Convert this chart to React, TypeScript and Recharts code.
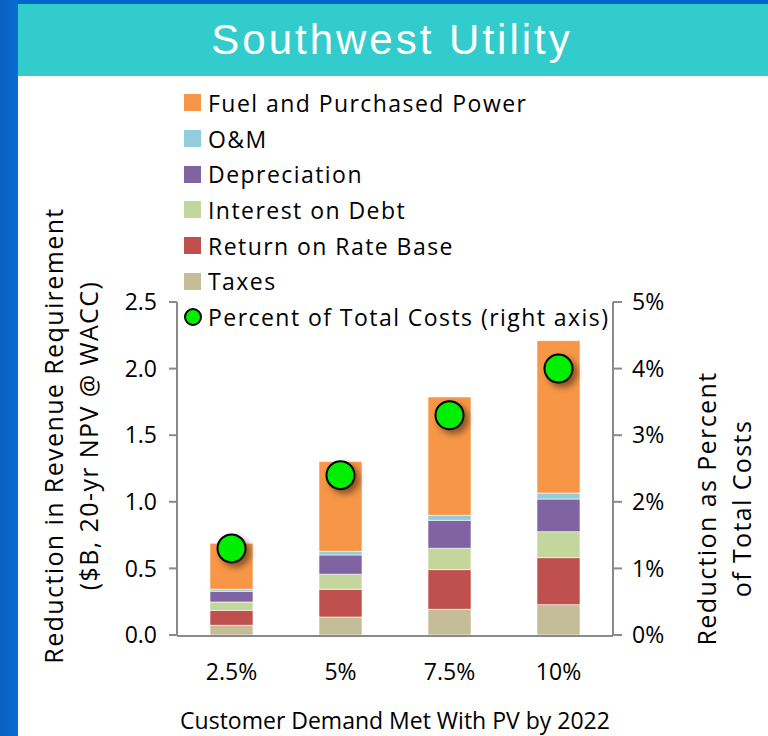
import React from "react";
import {
  ComposedChart,
  Bar,
  Scatter,
  XAxis,
  YAxis,
  Legend,
  Label,
} from "recharts";

// values ($B)
const categories = ["2.5%", "5%", "7.5%", "10%"];
const taxes = [0.073, 0.135, 0.193, 0.228];
const returnOnRateBase = [0.112, 0.208, 0.298, 0.353];
const interestOnDebt = [0.063, 0.113, 0.16, 0.195];
const depreciation = [0.08, 0.145, 0.21, 0.245];
const oAndM = [0.015, 0.027, 0.038, 0.045];
const fuelAndPower = [0.345, 0.674, 0.888, 1.144];
// percent of total costs (right axis)
const pctOfTotal = [1.3, 2.4, 3.3, 4.0];

const leftTicks = [0, 0.5, 1, 1.5, 2, 2.5];
const rightTicks = [0, 1, 2, 3, 4, 5];
const boundaryTicks = [0, 1, 2, 3, 4];

const FONT = "'Open Sans', 'Liberation Sans', sans-serif";
const AXIS = "#8a8a8a";

// bottom-up stacking order
const series = [
  { key: "taxes", name: "Taxes", color: "#C4BD97", values: taxes },
  { key: "ret", name: "Return on Rate Base", color: "#C0504D", values: returnOnRateBase },
  { key: "interest", name: "Interest on Debt", color: "#C3D69B", values: interestOnDebt },
  { key: "dep", name: "Depreciation", color: "#8064A2", values: depreciation },
  { key: "om", name: "O&M", color: "#92CDDC", values: oAndM },
  { key: "fuel", name: "Fuel and Purchased Power", color: "#F79646", values: fuelAndPower },
];

const data = categories.map((c, i) => {
  const row: any = { cat: c, pct: pctOfTotal[i] };
  series.forEach((s) => (row[s.key] = s.values[i]));
  return row;
});

const tickStyle = { fontFamily: FONT, fontSize: 23, fill: "#000" };

function LegendBox() {
  const rows = [...series].reverse();
  const rowStyle: React.CSSProperties = {
    display: "flex",
    alignItems: "center",
    height: 35.7,
    fontFamily: FONT,
    fontSize: 23,
    letterSpacing: 1.45,
    color: "#000",
    whiteSpace: "nowrap",
  };
  return (
    <div>
      {rows.map((s) => (
        <div key={s.key} style={rowStyle}>
          <span style={{ width: 17, height: 17, background: s.color, marginRight: 7, display: "inline-block" }} />
          {s.name}
        </div>
      ))}
      <div style={rowStyle}>
        <span
          style={{
            width: 14,
            height: 14,
            borderRadius: "50%",
            background: "#00EE00",
            border: "2px solid #000",
            marginRight: 6,
            display: "inline-block",
          }}
        />
        Percent of Total Costs (right axis)
      </div>
    </div>
  );
}

const titleStyle = { fontFamily: FONT, fontSize: 25, letterSpacing: 1.4, fill: "#000" };

function LeftTitle(props: any) {
  const vb = props.viewBox;
  const cy = vb.y + vb.height / 2 - 33;
  const x1 = vb.x - 64;
  const x2 = vb.x - 29;
  return (
    <g>
      <text x={x1} y={cy} transform={`rotate(-90 ${x1} ${cy})`} textAnchor="middle" dominantBaseline="central" style={titleStyle}>
        Reduction in Revenue Requirement
      </text>
      <text x={x2} y={cy} transform={`rotate(-90 ${x2} ${cy})`} textAnchor="middle" dominantBaseline="central" style={titleStyle}>
        ($B, 20-yr NPV @ WACC)
      </text>
    </g>
  );
}

function RightTitle(props: any) {
  const vb = props.viewBox;
  const cy = vb.y + vb.height / 2 + 40;
  const x1 = vb.x + 93;
  const x2 = vb.x + 128;
  return (
    <g>
      <text x={x1} y={cy} transform={`rotate(-90 ${x1} ${cy})`} textAnchor="middle" dominantBaseline="central" style={titleStyle}>
        Reduction as Percent
      </text>
      <text x={x2} y={cy} transform={`rotate(-90 ${x2} ${cy})`} textAnchor="middle" dominantBaseline="central" style={titleStyle}>
        of Total Costs
      </text>
    </g>
  );
}

function BottomTitle(props: any) {
  const vb = props.viewBox;
  return (
    <text
      x={vb.x + vb.width / 2}
      y={720}
      textAnchor="middle"
      dominantBaseline="central"
      style={{ fontFamily: FONT, fontSize: 23, fill: "#000" }}
    >
      Customer Demand Met With PV by 2022
    </text>
  );
}

function Dot(props: any) {
  return (
    <circle
      cx={props.cx}
      cy={props.cy}
      r={14}
      fill="#00EE00"
      stroke="#000"
      strokeWidth={2}
      style={{ filter: "drop-shadow(4px 4px 3px rgba(0,0,0,0.45))" }}
    />
  );
}

export default function App() {
  return (
    <div style={{ position: "absolute", left: 0, top: 0, width: 768, height: 736, background: "#fff", overflow: "hidden" }}>
      <div style={{ position: "absolute", left: 0, top: 0, width: 768, height: 4, background: "#0066CC" }} />
      <div
        style={{
          position: "absolute",
          left: 0,
          top: 0,
          width: 18,
          height: 736,
          background: "linear-gradient(90deg, #0a5fbf, #0a6dd4)",
        }}
      />
      <div
        style={{
          position: "absolute",
          left: 18,
          top: 4,
          width: 750,
          height: 72,
          background: "#33CCCC",
          color: "#fff",
          fontFamily: "'Liberation Sans', Arial, sans-serif",
          fontSize: 42,
          letterSpacing: 3,
          lineHeight: "72px",
          textAlign: "center",
          textIndent: -2,
        }}
      >
        Southwest Utility
      </div>
      <div style={{ position: "absolute", left: 0, top: 0 }}>
        <ComposedChart
          width={768}
          height={736}
          data={data}
          margin={{ top: 302, right: 95, bottom: 40, left: 117 }}
        >
          <XAxis
            dataKey="cat"
            height={1}
            axisLine={false}
            tickLine={false}
            tickSize={0}
            tickMargin={29}
            tick={tickStyle}
            interval={0}
          >
            <Label content={BottomTitle} />
          </XAxis>
          <XAxis
            xAxisId="bounds"
            type="number"
            domain={[0, 4]}
            allowDataOverflow
            ticks={boundaryTicks}
            tick={false}
            tickSize={9}
            height={60}
            axisLine={{ stroke: AXIS, strokeWidth: 2 }}
            tickLine={{ stroke: AXIS, strokeWidth: 2 }}
          />
          <YAxis
            yAxisId="left"
            width={60}
            domain={[0, 2.5]}
            ticks={leftTicks}
            tickFormatter={(v: number) => v.toFixed(1)}
            tick={tickStyle}
            tickSize={8}
            tickMargin={12}
            axisLine={{ stroke: AXIS, strokeWidth: 2 }}
            tickLine={{ stroke: AXIS, strokeWidth: 2 }}
          >
            <Label content={LeftTitle} />
          </YAxis>
          <YAxis
            yAxisId="right"
            orientation="right"
            width={60}
            domain={[0, 5]}
            ticks={rightTicks}
            tickFormatter={(v: number) => v + "%"}
            tick={tickStyle}
            tickSize={9}
            tickMargin={10}
            axisLine={{ stroke: AXIS, strokeWidth: 2 }}
            tickLine={{ stroke: AXIS, strokeWidth: 2 }}
          >
            <Label content={RightTitle} />
          </YAxis>
          {series.map((s) => (
            <Bar
              key={s.key}
              yAxisId="left"
              dataKey={s.key}
              name={s.name}
              stackId="a"
              fill={s.color}
              stroke="#ffffff"
              strokeWidth={0.6}
              barSize={43}
              isAnimationActive={false}
            />
          ))}
          <Scatter
            yAxisId="right"
            dataKey="pct"
            name="Percent of Total Costs (right axis)"
            shape={Dot}
            isAnimationActive={false}
          />
          <Legend
            layout="vertical"
            align="center"
            verticalAlign="middle"
            wrapperStyle={{ top: 85, left: 184, width: 460 }}
            content={() => <LegendBox />}
          />
        </ComposedChart>
      </div>
    </div>
  );
}
